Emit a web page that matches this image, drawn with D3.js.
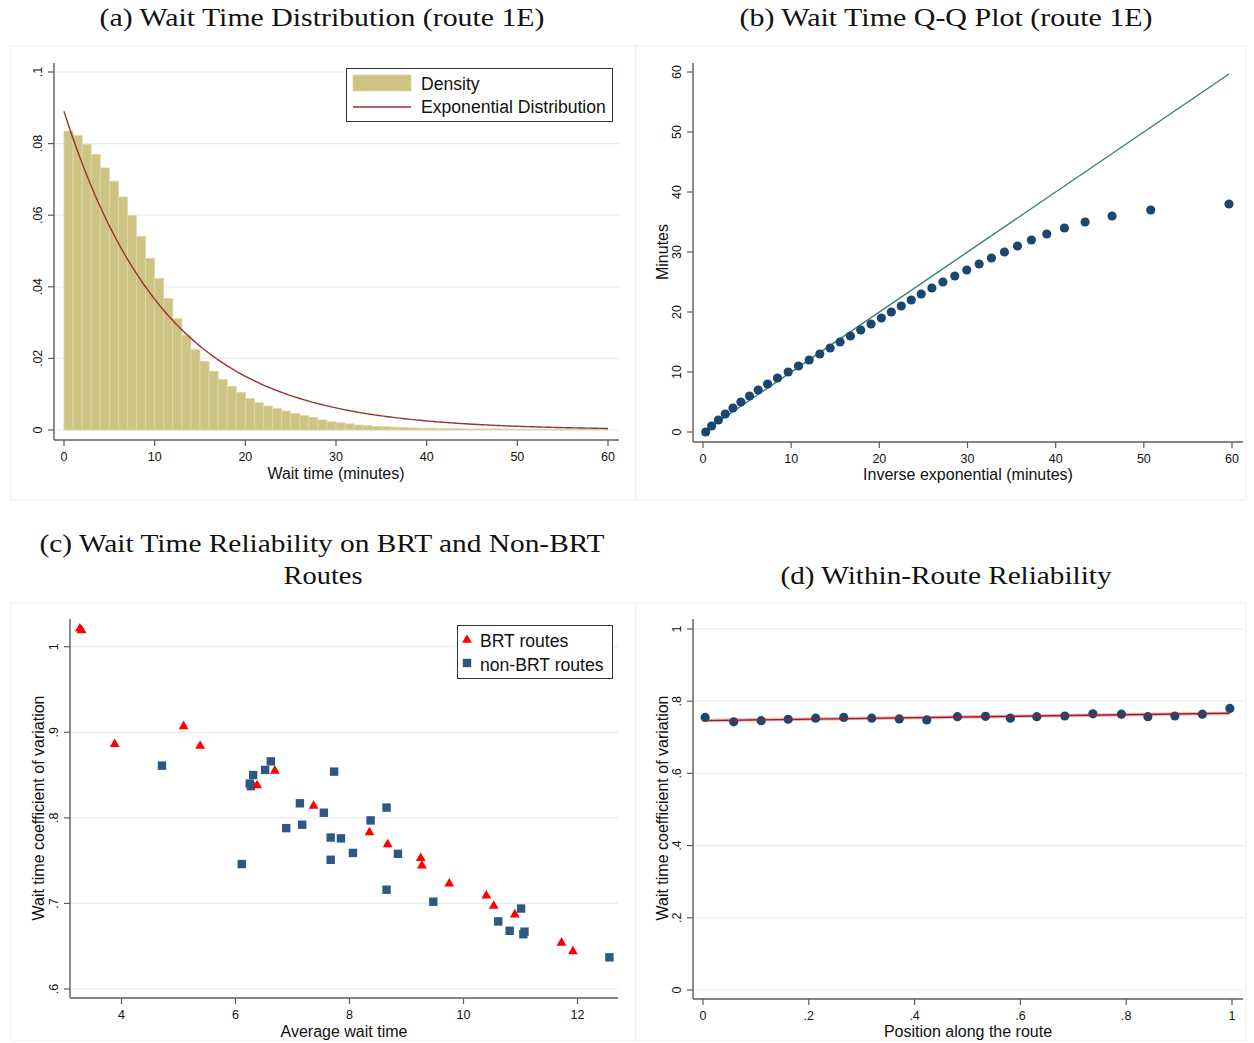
<!DOCTYPE html>
<html>
<head>
<meta charset="utf-8">
<script src="https://cdn.jsdelivr.net/npm/d3@7"></script>
<style>
  html, body { margin: 0; padding: 0; background: #ffffff; }
  svg { display: block; }
  text { font-family: "Liberation Sans", Arial, sans-serif; fill: #111; }
  .title { font-family: "Liberation Serif", "Times New Roman", serif; font-size: 26px; fill: #111; }
</style>
</head>
<body>
<svg id="chart" width="1254" height="1043"></svg>
<script>
// ---------------- DATA ----------------
// (a) histogram of wait times: 1-minute bins starting at these minutes
const histBinStart = d3.range(0, 60);
const histDensity = [
  0.0835, 0.0823, 0.0798, 0.0770, 0.0732, 0.0695, 0.0651, 0.0599, 0.0541, 0.0479,
  0.0423, 0.0367, 0.0311, 0.0264, 0.0224, 0.0192, 0.0164, 0.0141, 0.0122, 0.0105,
  0.0088, 0.0076, 0.0067, 0.0060, 0.0053, 0.0046, 0.0040, 0.0035, 0.0028, 0.0023,
  0.0020, 0.0017, 0.0014, 0.0012, 0.0010, 0.0009, 0.0008, 0.0007, 0.0006, 0.0005,
  0.0005, 0.0004, 0.0004, 0.0004, 0.0003, 0.0003, 0.0003, 0.0003, 0.0003, 0.0002,
  0.0002, 0.0002, 0.0002, 0.0002, 0.0002, 0.0002, 0.0002, 0.0002, 0.0002, 0.0002
];
const expRate = 0.089;             // fitted exponential rate (per minute)
const histXTicks = [0, 10, 20, 30, 40, 50, 60];
const histYTicks = [0, 0.02, 0.04, 0.06, 0.08, 0.1];
const histYTickLabels = ["0", ".02", ".04", ".06", ".08", ".1"];
const histLegend = ["Density", "Exponential Distribution"];

// (b) Q-Q plot
const qqTheoretical = [0.30, 0.98, 1.74, 2.53, 3.40, 4.30, 5.28, 6.26, 7.32, 8.45,
  9.66, 10.83, 12.04, 13.25, 14.42, 15.55, 16.72, 17.89, 19.06, 20.23,
  21.36, 22.49, 23.62, 24.75, 25.96, 27.21, 28.56, 29.92, 31.32, 32.72,
  34.19, 35.67, 37.25, 38.99, 40.99, 43.34, 46.40, 50.78, 59.66];
const qqObserved = [0, 1, 2, 3, 4, 5, 6, 7, 8, 9,
  10, 11, 12, 13, 14, 15, 16, 17, 18, 19,
  20, 21, 22, 23, 24, 25, 26, 27, 28, 29,
  30, 31, 32, 33, 34, 35, 36, 37, 38];
const qqXTicks = [0, 10, 20, 30, 40, 50, 60];
const qqYTicks = [0, 10, 20, 30, 40, 50, 60];

// (c) route-level reliability
const brtAvgWait = [3.27, 3.30, 3.88, 5.09, 5.38, 6.38, 6.69, 7.37, 8.35, 8.67, 9.25, 9.27, 9.75, 10.40, 10.53, 10.90, 11.72, 11.92];
const brtCV      = [1.021, 1.019, 0.886, 0.907, 0.884, 0.838, 0.855, 0.814, 0.783, 0.769, 0.753, 0.744, 0.723, 0.709, 0.697, 0.687, 0.654, 0.644];
const nonBrtAvgWait = [4.71, 6.11, 6.25, 6.27, 6.31, 6.52, 6.62, 6.89, 7.13, 7.17, 7.55, 7.73, 7.67, 7.85, 7.67, 8.06, 8.37, 8.65, 8.85, 8.65, 9.47, 11.01, 10.61, 10.81, 11.07, 11.05, 12.56];
const nonBrtCV      = [0.861, 0.746, 0.840, 0.837, 0.850, 0.856, 0.866, 0.788, 0.817, 0.792, 0.806, 0.854, 0.777, 0.776, 0.751, 0.759, 0.797, 0.812, 0.758, 0.716, 0.702, 0.694, 0.679, 0.668, 0.667, 0.664, 0.637];
const relXTicks = [4, 6, 8, 10, 12];
const relYTicks = [0.6, 0.7, 0.8, 0.9, 1];
const relYTickLabels = [".6", ".7", ".8", ".9", "1"];
const relLegend = ["BRT routes", "non-BRT routes"];

// (d) within-route reliability
const positionAlong = [0.004, 0.058, 0.110, 0.161, 0.213, 0.266, 0.319, 0.371, 0.423, 0.481,
  0.534, 0.581, 0.631, 0.684, 0.737, 0.791, 0.841, 0.892, 0.944, 0.996];
const positionCV = [0.755, 0.743, 0.746, 0.750, 0.753, 0.755, 0.753, 0.751, 0.748, 0.757,
  0.758, 0.753, 0.757, 0.759, 0.765, 0.764, 0.757, 0.759, 0.764, 0.780];
const posXTicks = [0, 0.2, 0.4, 0.6, 0.8, 1];
const posXTickLabels = ["0", ".2", ".4", ".6", ".8", "1"];
const posYTicks = [0, 0.2, 0.4, 0.6, 0.8, 1];
const posYTickLabels = ["0", ".2", ".4", ".6", ".8", "1"];

const titles = [
  "(a) Wait Time Distribution (route 1E)",
  "(b) Wait Time Q-Q Plot (route 1E)",
  ["(c) Wait Time Reliability on BRT and Non-BRT", "Routes"],
  "(d) Within-Route Reliability"
];
const axisTitles = {
  a: "Wait time (minutes)",
  bx: "Inverse exponential (minutes)", by: "Minutes",
  cx: "Average wait time", cy: "Wait time coefficient of variation",
  dx: "Position along the route", dy: "Wait time coefficient of variation"
};

// ---------------- STYLE ----------------
const C = {
  bar: "#cdc383", barEdge: "#ddd7a6", expLine: "#953338",
  qqDot: "#1a476f", qqLine: "#3b7f6d",
  brt: "#ff0000", nonBrt: "#2d5883",
  posDot: "#1a476f", fitLine: "#9e1f25",
  axis: "#5c5c5c", grid: "#e7eef0", frame: "#efefef"
};

const svg = d3.select("#chart");

// panel frames
[[11, 46, 624, 454], [636, 46, 610, 454], [11, 603, 624, 438], [636, 603, 610, 438]].forEach(f => {
  svg.append("rect").attr("x", f[0]).attr("y", f[1]).attr("width", f[2]).attr("height", f[3])
    .attr("fill", "none").attr("stroke", C.frame).attr("stroke-width", 1);
});

// titles (stretched to the wide Computer-Modern look of the original)
function title(txt, cx, by, len) {
  svg.append("text").attr("class", "title").attr("x", cx).attr("y", by).attr("text-anchor", "middle")
    .attr("textLength", len).attr("lengthAdjust", "spacingAndGlyphs").text(txt);
}
title(titles[0], 322, 26, 445);
title(titles[1], 946, 26, 413);
title(titles[2][0], 322, 552, 565);
title(titles[2][1], 323, 584, 79);
title(titles[3], 946, 584, 331);

// generic axes drawer
function drawAxes(opt) {
  const g = svg.append("g");
  const {x, y, axX, axY, xEnd, yTop, xTicks, xLabels, yTicks, yLabels, grid} = opt;
  if (grid) {
    yTicks.forEach(t => {
      g.append("line").attr("x1", axX + 1).attr("x2", xEnd).attr("y1", y(t)).attr("y2", y(t))
        .attr("stroke", C.grid).attr("stroke-width", 1.2);
    });
  }
  g.append("line").attr("x1", axX).attr("x2", axX).attr("y1", yTop).attr("y2", axY)
    .attr("stroke", C.axis).attr("stroke-width", 1.4);
  g.append("line").attr("x1", axX).attr("x2", xEnd).attr("y1", axY).attr("y2", axY)
    .attr("stroke", C.axis).attr("stroke-width", 1.4);
  xTicks.forEach((t, i) => {
    g.append("line").attr("x1", x(t)).attr("x2", x(t)).attr("y1", axY).attr("y2", axY + 6)
      .attr("stroke", C.axis).attr("stroke-width", 1.2);
    g.append("text").attr("x", x(t)).attr("y", axY + 20.5).attr("text-anchor", "middle")
      .attr("font-size", 12.5).text(xLabels ? xLabels[i] : String(t));
  });
  yTicks.forEach((t, i) => {
    g.append("line").attr("x1", axX - 6).attr("x2", axX).attr("y1", y(t)).attr("y2", y(t))
      .attr("stroke", C.axis).attr("stroke-width", 1.2);
    g.append("text").attr("transform", `translate(${axX - 16},${y(t)}) rotate(-90)`)
      .attr("text-anchor", "middle").attr("dy", "0.35em").attr("font-size", 12.5)
      .text(yLabels ? yLabels[i] : String(t));
  });
  return g;
}
function xTitle(txt, cx, by) {
  svg.append("text").attr("x", cx).attr("y", by).attr("text-anchor", "middle").attr("font-size", 16).text(txt);
}
function yTitle(txt, cx, cy) {
  svg.append("text").attr("transform", `translate(${cx},${cy}) rotate(-90)`)
    .attr("text-anchor", "middle").attr("dy", "0.35em").attr("font-size", 16).text(txt);
}

// ---------------- PANEL (a) ----------------
{
  const x = d3.scaleLinear().domain([0, 60]).range([64, 608]);
  const y = d3.scaleLinear().domain([0, 0.1]).range([430, 72]);
  drawAxes({x, y, axX: 54, axY: 440, xEnd: 619, yTop: 63,
    xTicks: histXTicks, yTicks: histYTicks, yLabels: histYTickLabels, grid: true});
  const g = svg.append("g");
  g.selectAll("rect.bar").data(histBinStart).join("rect").attr("class", "bar")
    .attr("x", d => x(d)).attr("width", d => x(d + 1) - x(d))
    .attr("y", (d, i) => y(histDensity[i])).attr("height", (d, i) => y(0) - y(histDensity[i]))
    .attr("fill", C.bar).attr("stroke", C.barEdge).attr("stroke-width", 0.8);
  const curveX = d3.range(0, 60.001, 0.25);
  g.append("path").datum(curveX)
    .attr("d", d3.line().x(d => x(d)).y(d => y(expRate * Math.exp(-expRate * d))))
    .attr("fill", "none").attr("stroke", C.expLine).attr("stroke-width", 1.4);
  xTitle(axisTitles.a, 336, 479);
  const lg = svg.append("g");
  lg.append("rect").attr("x", 346.5).attr("y", 68.5).attr("width", 266).attr("height", 53)
    .attr("fill", "#fff").attr("stroke", "#333").attr("stroke-width", 1);
  lg.append("rect").attr("x", 353).attr("y", 75).attr("width", 58).attr("height", 16)
    .attr("fill", C.bar).attr("stroke", C.barEdge).attr("stroke-width", 0.8);
  lg.append("line").attr("x1", 353).attr("x2", 411).attr("y1", 107).attr("y2", 107)
    .attr("stroke", C.expLine).attr("stroke-width", 1.4);
  lg.append("text").attr("x", 421).attr("y", 90).attr("font-size", 17.6).text(histLegend[0]);
  lg.append("text").attr("x", 421).attr("y", 113).attr("font-size", 17.6).text(histLegend[1]);
}

// ---------------- PANEL (b) ----------------
{
  const x = d3.scaleLinear().domain([0, 60]).range([703, 1232]);
  const y = d3.scaleLinear().domain([0, 60]).range([432, 72]);
  drawAxes({x, y, axX: 693, axY: 442, xEnd: 1243, yTop: 63,
    xTicks: qqXTicks, yTicks: qqYTicks, grid: false});
  const g = svg.append("g");
  const lo = d3.min(qqTheoretical), hi = d3.max(qqTheoretical);
  g.append("line").attr("x1", x(lo)).attr("y1", y(lo)).attr("x2", x(hi)).attr("y2", y(hi))
    .attr("stroke", C.qqLine).attr("stroke-width", 1.4);
  g.selectAll("circle").data(qqTheoretical).join("circle")
    .attr("cx", d => x(d)).attr("cy", (d, i) => y(qqObserved[i])).attr("r", 4.6)
    .attr("fill", C.qqDot);
  xTitle(axisTitles.bx, 968, 480);
  yTitle(axisTitles.by, 662, 252);
}

// ---------------- PANEL (c) ----------------
{
  const x = d3.scaleLinear().domain([4, 12]).range([121.5, 577.5]);
  const y = d3.scaleLinear().domain([0.6, 1]).range([989, 646.7]);
  drawAxes({x, y, axX: 70, axY: 998, xEnd: 618, yTop: 619,
    xTicks: relXTicks, yTicks: relYTicks, yLabels: relYTickLabels, grid: true});
  const g = svg.append("g");
  const tri = d3.symbol().type(d3.symbolTriangle).size(42);
  const sq = 8.4;
  g.selectAll("rect.nb").data(nonBrtAvgWait).join("rect").attr("class", "nb")
    .attr("x", d => x(d) - sq / 2).attr("y", (d, i) => y(nonBrtCV[i]) - sq / 2)
    .attr("width", sq).attr("height", sq).attr("fill", C.nonBrt);
  g.selectAll("path.brt").data(brtAvgWait).join("path").attr("class", "brt")
    .attr("d", tri).attr("transform", (d, i) => `translate(${x(d)},${y(brtCV[i])})`)
    .attr("fill", C.brt);
  xTitle(axisTitles.cx, 344, 1037);
  yTitle(axisTitles.cy, 38, 808);
  const lg = svg.append("g");
  lg.append("rect").attr("x", 457.5).attr("y", 625.5).attr("width", 155).attr("height", 53)
    .attr("fill", "#fff").attr("stroke", "#333").attr("stroke-width", 1);
  lg.append("path").attr("d", tri).attr("transform", "translate(467,640)").attr("fill", C.brt);
  lg.append("rect").attr("x", 467 - sq / 2).attr("y", 663 - sq / 2).attr("width", sq).attr("height", sq).attr("fill", C.nonBrt);
  lg.append("text").attr("x", 480).attr("y", 647).attr("font-size", 17.6).text(relLegend[0]);
  lg.append("text").attr("x", 480).attr("y", 671).attr("font-size", 17.6).text(relLegend[1]);
}

// ---------------- PANEL (d) ----------------
{
  const x = d3.scaleLinear().domain([0, 1]).range([703, 1232]);
  const y = d3.scaleLinear().domain([0, 1]).range([990, 629]);
  drawAxes({x, y, axX: 693, axY: 999, xEnd: 1243, yTop: 619,
    xTicks: posXTicks, xLabels: posXTickLabels, yTicks: posYTicks, yLabels: posYTickLabels, grid: true});
  const g = svg.append("g");
  const mx = d3.mean(positionAlong), my = d3.mean(positionCV);
  let sxy = 0, sxx = 0;
  positionAlong.forEach((v, i) => { sxy += (v - mx) * (positionCV[i] - my); sxx += (v - mx) * (v - mx); });
  const b = sxy / sxx, a = my - b * mx;
  const x0 = d3.min(positionAlong), x1 = d3.max(positionAlong);
  g.append("line").attr("x1", x(x0)).attr("y1", y(a + b * x0)).attr("x2", x(x1)).attr("y2", y(a + b * x1))
    .attr("stroke", "#e8b9bb").attr("stroke-width", 3.5);
  g.selectAll("circle").data(positionAlong).join("circle")
    .attr("cx", d => x(d)).attr("cy", (d, i) => y(positionCV[i])).attr("r", 4.6)
    .attr("fill", C.posDot);
  g.append("line").attr("x1", x(x0)).attr("y1", y(a + b * x0)).attr("x2", x(x1)).attr("y2", y(a + b * x1))
    .attr("stroke", C.fitLine).attr("stroke-width", 1.4);
  xTitle(axisTitles.dx, 968, 1037);
  yTitle(axisTitles.dy, 662, 808);
}
</script>
</body>
</html>
